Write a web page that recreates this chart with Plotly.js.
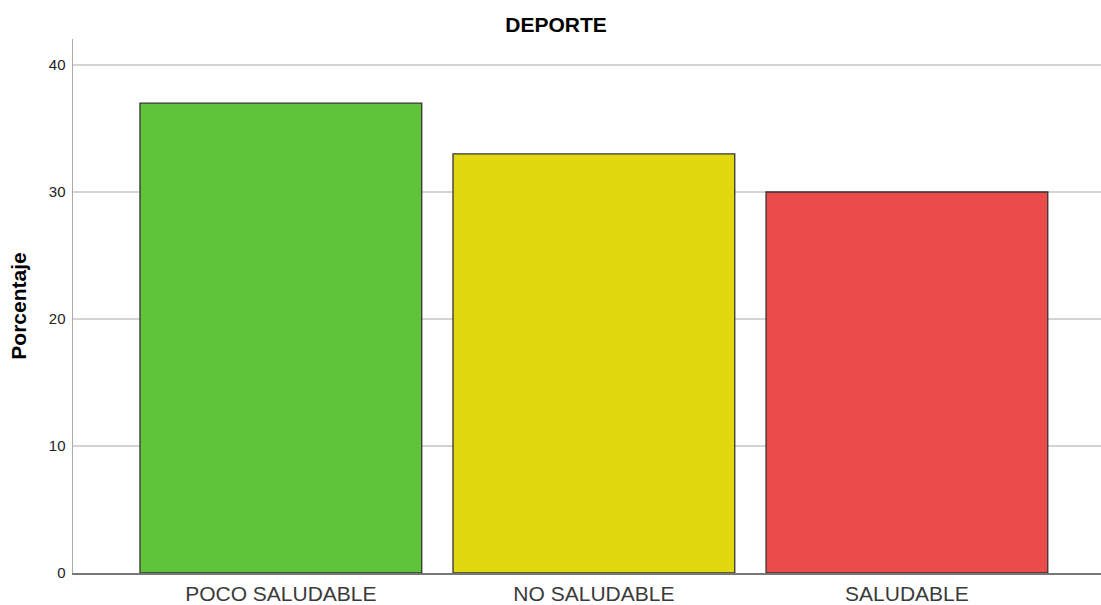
<!DOCTYPE html>
<html>
<head>
<meta charset="utf-8">
<script src="https://cdn.plot.ly/plotly-3.0.1.min.js"></script>
<style>html,body{margin:0;padding:0;background:#fff;}#chart{width:1101px;height:605px;}</style>
</head>
<body>
<div id="chart"></div>
<script>
const categories = ["POCO SALUDABLE", "NO SALUDABLE", "SALUDABLE"];
const percentages = [37, 33, 30];
const barColors = ["#5fc43a", "#e2d810", "#ec4b4b"];
const yTicks = [0, 10, 20, 30, 40];

const trace = {
  type: "bar",
  x: categories,
  y: percentages,
  marker: {color: barColors, line: {color: "#333333", width: 1.3}},
  hoverinfo: "skip"
};

const layout = {
  width: 1101, height: 605,
  margin: {l: 73, r: 0, t: 39, b: 32},
  paper_bgcolor: "#ffffff", plot_bgcolor: "#ffffff",
  bargap: 0.1,
  showlegend: false,
  title: {text: "<b>DEPORTE</b>", x: 0.505, xanchor: "center", y: 0.96, yanchor: "middle",
          font: {family: "Liberation Sans, Arial, sans-serif", size: 21, color: "#000"}},
  xaxis: {
    range: [-0.664, 2.62],
    showgrid: false, zeroline: false,
    showline: true, linecolor: "#777777", linewidth: 1.5,
    ticks: "", ticklen: 0,
    ticklabelstandoff: 1,
    tickfont: {family: "Liberation Sans, Arial, sans-serif", size: 21, color: "#3a3a3a"}
  },
  yaxis: {
    range: [0, 42.05],
    tickvals: yTicks, ticktext: yTicks.map(String),
    showgrid: true, gridcolor: "#d4d4d4", gridwidth: 1.5,
    zeroline: false,
    showline: true, linecolor: "#aaaaaa", linewidth: 1.5,
    ticks: "", ticklen: 0,
    ticklabelstandoff: 3,
    tickfont: {family: "Liberation Sans, Arial, sans-serif", size: 15, color: "#222"},
    title: {text: "<b>Porcentaje</b>", standoff: 16,
            font: {family: "Liberation Sans, Arial, sans-serif", size: 21, color: "#000"}}
  }
};

Plotly.newPlot("chart", [trace], layout, {staticPlot: true, displayModeBar: false});
</script>
</body>
</html>
